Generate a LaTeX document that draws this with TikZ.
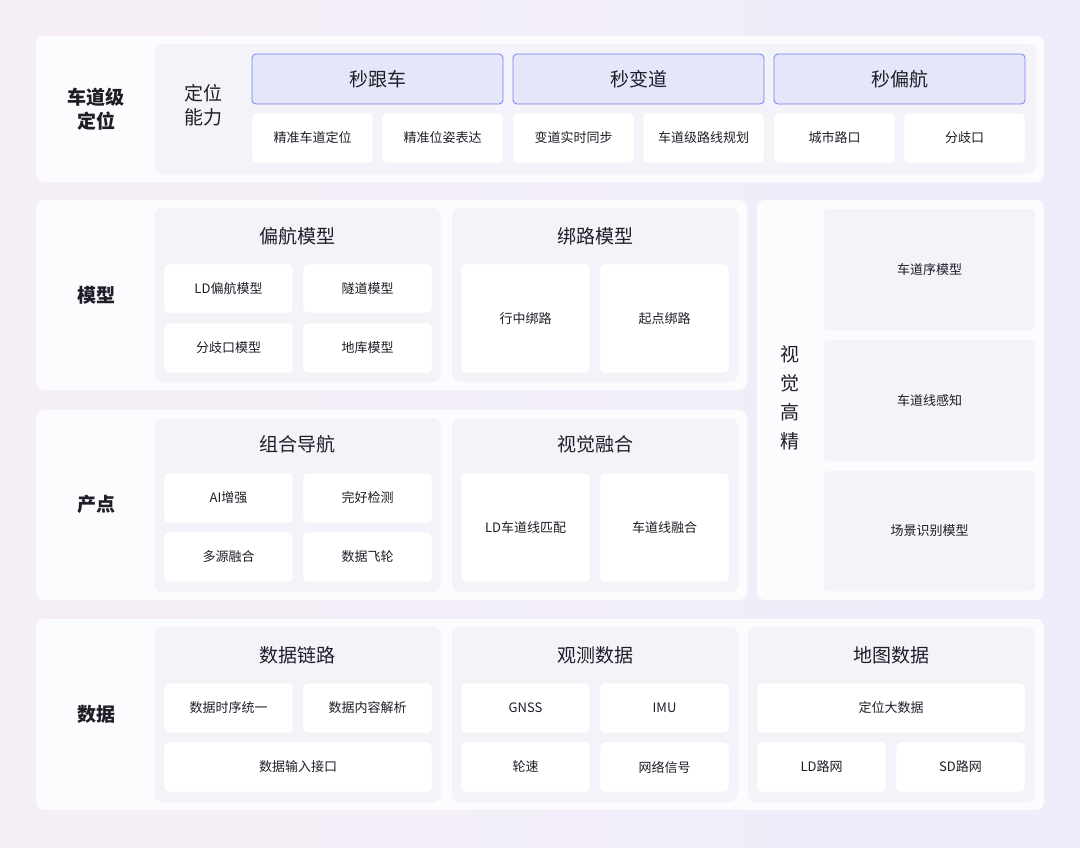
\documentclass[tikz,border=0pt]{standalone}
\usepackage{fontspec}
\setmainfont{Noto Sans CJK SC}
\usetikzlibrary{shadings}
\definecolor{bgA}{HTML}{F6EEF6}
\definecolor{bgB}{HTML}{EEEDFB}
\definecolor{panel}{HTML}{FCFBFE}
\definecolor{inner}{HTML}{F3F3F9}
\definecolor{hdr}{HTML}{E6E6FA}
\definecolor{hdrb}{HTML}{6F80F2}
\definecolor{txt}{HTML}{1E1E28}
\tikzset{
 sub/.style={draw=white!93!black,line width=0.4pt,fill=white,rounded corners=4pt,font=\fontsize{13}{15}\selectfont,text=txt,inner sep=0pt},
 hdrbox/.style={draw=hdrb,line width=0.8pt,fill=hdr,rounded corners=4pt,font=\fontsize{19}{22}\selectfont,text=txt,inner sep=0pt},
 ttl/.style={font=\fontsize{19}{22}\selectfont,text=txt},
 lbl/.style={font=\bfseries\fontsize{19}{24}\selectfont,text=txt,align=center},
}
\newcommand\bx[7][sub]{%
 \pgfmathsetmacro\bw{#5-#3}\pgfmathsetmacro\bh{#6-#4}%
 \node[#1,minimum width=\bw pt,minimum height=\bh pt] (#2) at ({(#3+#5)/2},{(#4+#6)/2}) {#7};}
\newcommand\pan[5]{\fill[#1,rounded corners=8pt] (#2,#3) rectangle (#4,#5);}
\begin{document}
\begin{tikzpicture}[x=1pt,y=-1pt]
\shade[left color=bgA,right color=bgB] (0,0) rectangle (1080,847);
\useasboundingbox (0,0) rectangle (1080,847);
% row 1
\pan{panel}{36}{36}{1044}{182}
\node[lbl] (l1) at (96,109) {车道级\\定位};
\pan{inner}{154}{44}{1036}{174}
\node[lbl,font=\fontsize{19}{24}\selectfont] (l1b) at (203,105) {定位\\能力};
\bx[hdrbox]{h1}{252}{54}{503}{104}{秒跟车}
\bx[hdrbox]{h2}{513}{54}{764}{104}{秒变道}
\bx[hdrbox]{h3}{774}{54}{1025}{104}{秒偏航}
\bx{a1}{252}{113}{373}{163}{精准车道定位}
\bx{a2}{382}{113}{503}{163}{精准位姿表达}
\bx{a3}{513}{113}{634}{163}{变道实时同步}
\bx{a4}{643}{113}{764}{163}{车道级路线规划}
\bx{a5}{774}{113}{895}{163}{城市路口}
\bx{a6}{904}{113}{1025}{163}{分歧口}
% row 2
\pan{panel}{36}{200}{747}{390}
\node[lbl] (l2) at (96,295) {模型};
\pan{inner}{154}{208}{441}{382}
\node[ttl] (t21) at (297,236) {偏航模型};
\bx{b1}{164}{264}{293}{313}{LD偏航模型}
\bx{b2}{303}{264}{432}{313}{隧道模型}
\bx{b3}{164}{323}{293}{373}{分歧口模型}
\bx{b4}{303}{323}{432}{373}{地库模型}
\pan{inner}{452}{208}{738}{382}
\node[ttl] (t22) at (595,236) {绑路模型};
\bx{b5}{461}{264}{590}{373}{行中绑路}
\bx{b6}{600}{264}{729}{373}{起点绑路}
% right
\pan{panel}{757}{200}{1044}{600}
\node[lbl,font=\fontsize{19}{29}\selectfont] (lv) at (790,398) {视\\觉\\高\\精};
\bx[sub,fill=inner,draw=none]{v1}{824}{209}{1035}{330}{车道序模型}
\bx[sub,fill=inner,draw=none]{v2}{824}{340}{1035}{461}{车道线感知}
\bx[sub,fill=inner,draw=none]{v3}{824}{471}{1035}{591}{场景识别模型}
% row 3
\pan{panel}{36}{410}{747}{600}
\node[lbl] (l3) at (96,504) {产点};
\pan{inner}{154}{418}{441}{592}
\node[ttl] (t31) at (297,444) {组合导航};
\bx{c1}{164}{473}{293}{523}{AI增强}
\bx{c2}{303}{473}{432}{523}{完好检测}
\bx{c3}{164}{532}{293}{582}{多源融合}
\bx{c4}{303}{532}{432}{582}{数据飞轮}
\pan{inner}{452}{418}{738}{592}
\node[ttl] (t32) at (595,444) {视觉融合};
\bx{c5}{461}{473}{590}{582}{LD车道线匹配}
\bx{c6}{600}{473}{729}{582}{车道线融合}
% row 4
\pan{panel}{36}{619}{1044}{810}
\node[lbl] (l4) at (96,714) {数据};
\pan{inner}{154}{627}{441}{802}
\node[ttl] (t41) at (297,655) {数据链路};
\bx{d1}{164}{683}{293}{733}{数据时序统一}
\bx{d2}{303}{683}{432}{733}{数据内容解析}
\bx{d3}{164}{742}{432}{792}{数据输入接口}
\pan{inner}{452}{627}{738}{802}
\node[ttl] (t42) at (595,655) {观测数据};
\bx{d4}{461}{683}{590}{733}{GNSS}
\bx{d5}{600}{683}{729}{733}{IMU}
\bx{d6}{461}{742}{590}{792}{轮速}
\bx{d7}{600}{742}{729}{792}{网络信号}
\pan{inner}{748}{627}{1035}{802}
\node[ttl] (t43) at (891,655) {地图数据};
\bx{d8}{757}{683}{1025}{733}{定位大数据}
\bx{d9}{757}{742}{886}{792}{LD路网}
\bx{d10}{896}{742}{1025}{792}{SD路网}
\end{tikzpicture}
\end{document}
